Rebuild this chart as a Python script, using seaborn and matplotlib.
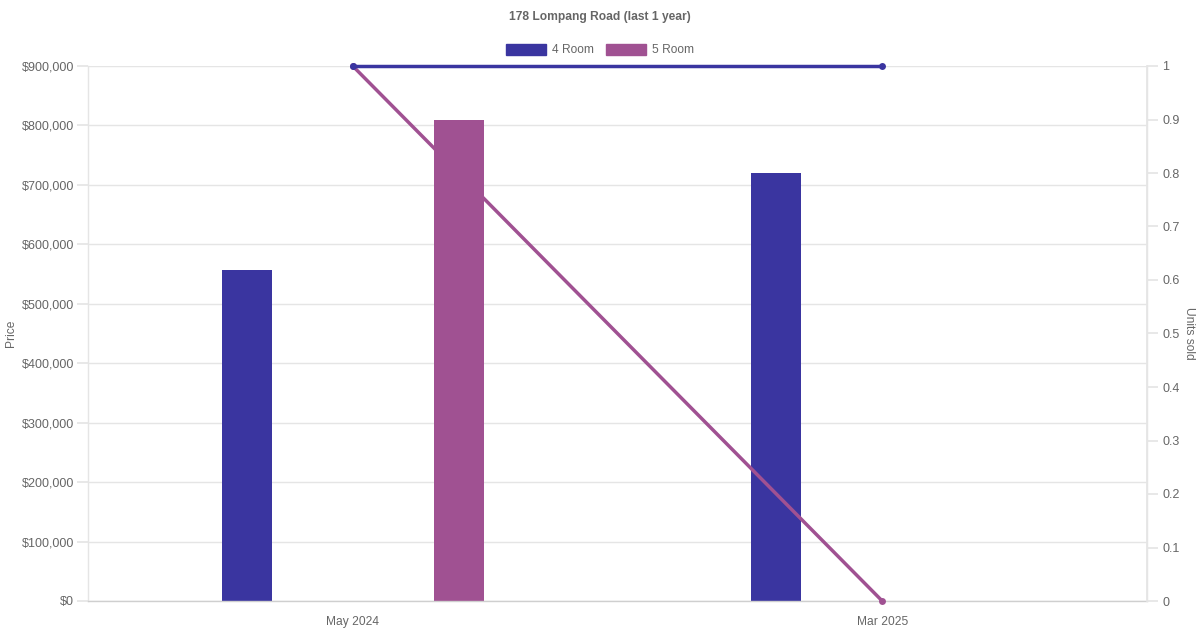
import matplotlib
matplotlib.use("Agg")
import matplotlib.pyplot as plt
import matplotlib.ticker as mticker
from matplotlib.patches import Patch
import seaborn as sns
import pandas as pd
import numpy as np

categories = ["May 2024", "Mar 2025"]
series = ["4 Room", "5 Room"]
price_4room = [557000, 720000]
price_5room = [809000, np.nan]
units_4room = [1, 1]
units_5room = [1, 0]
colors = {"4 Room": "#3a35a0", "5 Room": "#a05192"}
title = "178 Lompang Road (last 1 year)"

sns.set_theme(style="white")
plt.rcParams["font.family"] = ["Liberation Sans", "DejaVu Sans"]
TXT = "#666666"
GRID = "#e5e5e5"
PX = 0.72
L, R, T, B = 88, 1147, 66, 601

bars = pd.DataFrame({
    "month": categories * 2,
    "type": ["4 Room"] * 2 + ["5 Room"] * 2,
    "price": price_4room + price_5room,
})
x_codes = list(range(len(categories)))
lines = pd.DataFrame({
    "x": x_codes * 2,
    "type": ["4 Room"] * 2 + ["5 Room"] * 2,
    "units": units_4room + units_5room,
})

fig = plt.figure(figsize=(12, 6.3), dpi=100)
ax = fig.add_axes([L / 1200, 1 - B / 630, (R - L) / 1200, (B - T) / 630])

sns.barplot(data=bars, x="month", y="price", hue="type", order=categories,
            hue_order=series, palette=colors, width=0.8, ax=ax, legend=False,
            saturation=1, errorbar=None)
bar_w = 50 / 529.5
for p in ax.patches:
    c = p.get_x() + p.get_width() / 2
    p.set_x(c - bar_w / 2)
    p.set_width(bar_w)
    p.set_edgecolor("none")

ax.set_xlim(-0.5, 1.5)
ax.set_ylim(0, 900000)
ax.yaxis.set_major_locator(mticker.MultipleLocator(100000))
ax.yaxis.set_major_formatter(mticker.FuncFormatter(lambda v, _: f"${v:,.0f}"))
ax.grid(axis="y", color=GRID, linewidth=1)
ax.set_axisbelow(True)
ax.spines["top"].set_visible(False)
for s in ["left", "right", "bottom"]:
    ax.spines[s].set_color(GRID)
    ax.spines[s].set_linewidth(1)
ax.spines["bottom"].set_color("#cfcfcf")
ax.tick_params(axis="y", length=8, color=GRID, labelsize=12.5 * PX, labelcolor=TXT, pad=2)
ax.tick_params(axis="x", length=0, labelsize=12 * PX, labelcolor=TXT, pad=11)
ax.set_xlabel("")
ax.set_ylabel("Price", fontsize=12 * PX, color=TXT, va="center")
ax.yaxis.set_label_coords((11 - L) / (R - L), 0.5)

ax2 = ax.twinx()
sns.lineplot(data=lines, x="x", y="units", hue="type", hue_order=series,
             palette=colors, ax=ax2, legend=False, linewidth=2.5,
             marker="o", markersize=5, markeredgewidth=0)
ax2.set_xlim(-0.5, 1.5)
ax2.set_ylim(0, 1)
ax2.yaxis.set_major_locator(mticker.MultipleLocator(0.1))
ax2.yaxis.set_major_formatter(mticker.FuncFormatter(
    lambda v, _: f"{int(round(v))}" if round(v, 3) in (0, 1) else f"{v:.1f}"))
for s in ["top", "left", "bottom"]:
    ax2.spines[s].set_visible(False)
ax2.spines["right"].set_color(GRID)
ax2.tick_params(axis="y", length=8, color=GRID, labelsize=12.5 * PX, labelcolor=TXT, pad=3)
ax2.set_ylabel("Units sold", fontsize=12 * PX, color=TXT, rotation=270, va="center")
ax2.yaxis.set_label_coords((1189 - L) / (R - L), 0.5)
ax2.set_xlabel("")
for i, l in enumerate(ax2.lines):
    l.set_clip_on(False)
    l.set_zorder(3 - i)

fig.text(0.5, 1 - 17 / 630, title, ha="center", va="center",
         fontsize=12 * PX, fontweight="bold", color=TXT)
handles = [Patch(facecolor=colors[s], edgecolor=colors[s], label=s) for s in series]
fig.legend(handles=handles, loc="center", bbox_to_anchor=(0.5, 1 - 50 / 630),
           ncol=2, frameon=False, fontsize=12 * PX, labelcolor=TXT,
           handlelength=3.3, handleheight=1.0, handletextpad=0.5, columnspacing=1.0)

fig.savefig("out.png", dpi=100)
